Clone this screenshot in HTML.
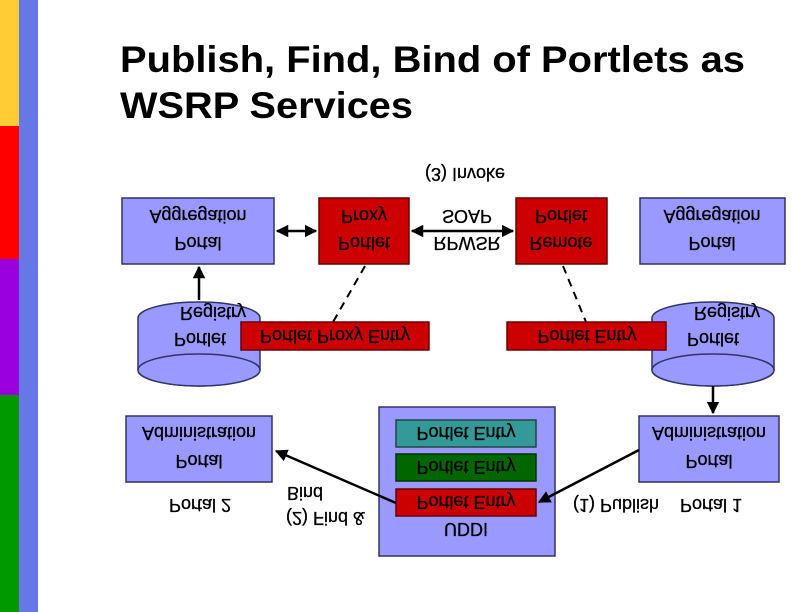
<!DOCTYPE html>
<html><head><meta charset="utf-8"><style>
html,body{margin:0;padding:0;background:#fff;}
svg{display:block;}
text{font-family:"Liberation Sans",Arial,sans-serif;}
</style></head><body>
<svg width="792" height="612" viewBox="0 0 792 612" xmlns="http://www.w3.org/2000/svg">
<defs>
<marker id="ah" viewBox="0 0 10 10" refX="9" refY="5" markerWidth="5" markerHeight="5" orient="auto-start-reverse"><path d="M0,0 L10,5 L0,10 z" fill="#000"/></marker>
</defs>
<rect x="0" y="0" width="19" height="126" fill="#ffcc33"/>
<rect x="0" y="126" width="19" height="133" fill="#ff0000"/>
<rect x="0" y="259" width="19" height="136" fill="#9900dd"/>
<rect x="0" y="395" width="19" height="217" fill="#009900"/>
<rect x="19" y="0" width="19" height="612" fill="#6677e6"/>
<text x="120" y="72" font-size="37" font-weight="bold" fill="#000" textLength="625" lengthAdjust="spacingAndGlyphs">Publish, Find, Bind of Portlets as</text>
<text x="120" y="118" font-size="37" font-weight="bold" fill="#000" textLength="293" lengthAdjust="spacingAndGlyphs">WSRP Services</text>

<g font-size="18" text-anchor="middle" dominant-baseline="central" fill="#000" stroke="#000" stroke-width="0.3">
<rect x="122" y="198" width="152" height="66" fill="#9999ff" stroke="#333366" stroke-width="1.5"/>
<text transform="translate(198,216) scale(1,-1)">Aggregation</text>
<text transform="translate(198,243) scale(1,-1)">Portal</text>
<rect x="319" y="198" width="90" height="66" fill="#cc0000" stroke="#660000" stroke-width="1.5"/>
<text transform="translate(364,216) scale(1,-1)">Proxy</text>
<text transform="translate(364,243) scale(1,-1)">Portlet</text>
<rect x="516" y="198" width="91" height="66" fill="#cc0000" stroke="#660000" stroke-width="1.5"/>
<text transform="translate(561,216) scale(1,-1)">Portlet</text>
<text transform="translate(561,243) scale(1,-1)">Remote</text>
<rect x="640" y="198" width="145" height="66" fill="#9999ff" stroke="#333366" stroke-width="1.5"/>
<text transform="translate(712,216) scale(1,-1)">Aggregation</text>
<text transform="translate(712,243) scale(1,-1)">Portal</text>
<text transform="translate(465,174) scale(1,-1)">(3) Invoke</text>
<text transform="translate(467,216) scale(1,-1)">SOAP</text>
<text transform="translate(467,243) scale(1,-1)">RPWSR</text>
<line x1="277" y1="231" x2="316" y2="231" stroke="#000" stroke-width="2.5" marker-start="url(#ah)" marker-end="url(#ah)"/>
<line x1="412" y1="231" x2="513" y2="231" stroke="#000" stroke-width="2.5" marker-start="url(#ah)" marker-end="url(#ah)"/>

<path d="M138,318 A61,16 0 0 1 260,318 L260,370 A61,16 0 0 1 138,370 Z" fill="#9999ff" stroke="#333366" stroke-width="1.5"/>
<ellipse cx="199" cy="370" rx="61" ry="16" fill="#9999ff" stroke="#333366" stroke-width="1.5"/>
<text transform="translate(213,313) scale(1,-1)">Registry</text>
<text transform="translate(200,339) scale(1,-1)">Portlet</text>
<rect x="241" y="322" width="188" height="28" fill="#cc0000" stroke="#660000" stroke-width="1.5"/>
<text transform="translate(335,336) scale(1,-1)">Portlet Proxy Entry</text>
<line x1="199" y1="300" x2="199" y2="267" stroke="#000" stroke-width="2.5" marker-end="url(#ah)"/>
<line x1="365" y1="266" x2="333" y2="322" stroke="#000" stroke-width="2" stroke-dasharray="8,6"/>

<path d="M652,318 A61,16 0 0 1 774,318 L774,370 A61,16 0 0 1 652,370 Z" fill="#9999ff" stroke="#333366" stroke-width="1.5"/>
<ellipse cx="713" cy="370" rx="61" ry="16" fill="#9999ff" stroke="#333366" stroke-width="1.5"/>
<text transform="translate(727,313) scale(1,-1)">Registry</text>
<text transform="translate(713,339) scale(1,-1)">Portlet</text>
<rect x="507" y="322" width="159" height="28" fill="#cc0000" stroke="#660000" stroke-width="1.5"/>
<text transform="translate(587,336) scale(1,-1)">Portlet Entry</text>
<line x1="563" y1="266" x2="586" y2="322" stroke="#000" stroke-width="2" stroke-dasharray="8,6"/>
<line x1="713" y1="386" x2="713" y2="413" stroke="#000" stroke-width="2.5" marker-end="url(#ah)"/>

<rect x="126" y="416" width="146" height="66" fill="#9999ff" stroke="#333366" stroke-width="1.5"/>
<text transform="translate(199,433) scale(1,-1)">Administration</text>
<text transform="translate(199,461) scale(1,-1)">Portal</text>
<rect x="639" y="416" width="140" height="66" fill="#9999ff" stroke="#333366" stroke-width="1.5"/>
<text transform="translate(709,433) scale(1,-1)">Administration</text>
<text transform="translate(709,461) scale(1,-1)">Portal</text>

<rect x="379" y="407" width="176" height="149" fill="#9999ff" stroke="#333366" stroke-width="1.5"/>
<rect x="396" y="420" width="140" height="27" fill="#339999" stroke="#224444" stroke-width="1.5"/>
<text transform="translate(466,433) scale(1,-1)">Portlet Entry</text>
<rect x="396" y="454" width="140" height="27" fill="#006600" stroke="#003300" stroke-width="1.5"/>
<text transform="translate(466,467) scale(1,-1)">Portlet Entry</text>
<rect x="396" y="489" width="140" height="27" fill="#cc0000" stroke="#660000" stroke-width="1.5"/>
<text transform="translate(466,502) scale(1,-1)">Portlet Entry</text>
<text transform="translate(466,529) scale(1,-1)">UDDI</text>

<line x1="639" y1="450" x2="539" y2="502" stroke="#000" stroke-width="2.5" marker-end="url(#ah)"/>
<line x1="396" y1="503" x2="276" y2="451" stroke="#000" stroke-width="2.5" marker-end="url(#ah)"/>

<text transform="translate(200,505) scale(1,-1)">Portal 2</text>
<text text-anchor="start" transform="translate(287,493) scale(1,-1)">Bind</text>
<text text-anchor="start" transform="translate(286,518) scale(1,-1)">(2) Find &amp;</text>
<text transform="translate(616,505) scale(1,-1)">(1) Publish</text>
<text transform="translate(711,505) scale(1,-1)">Portal 1</text>
</g>
</svg>
</body></html>
